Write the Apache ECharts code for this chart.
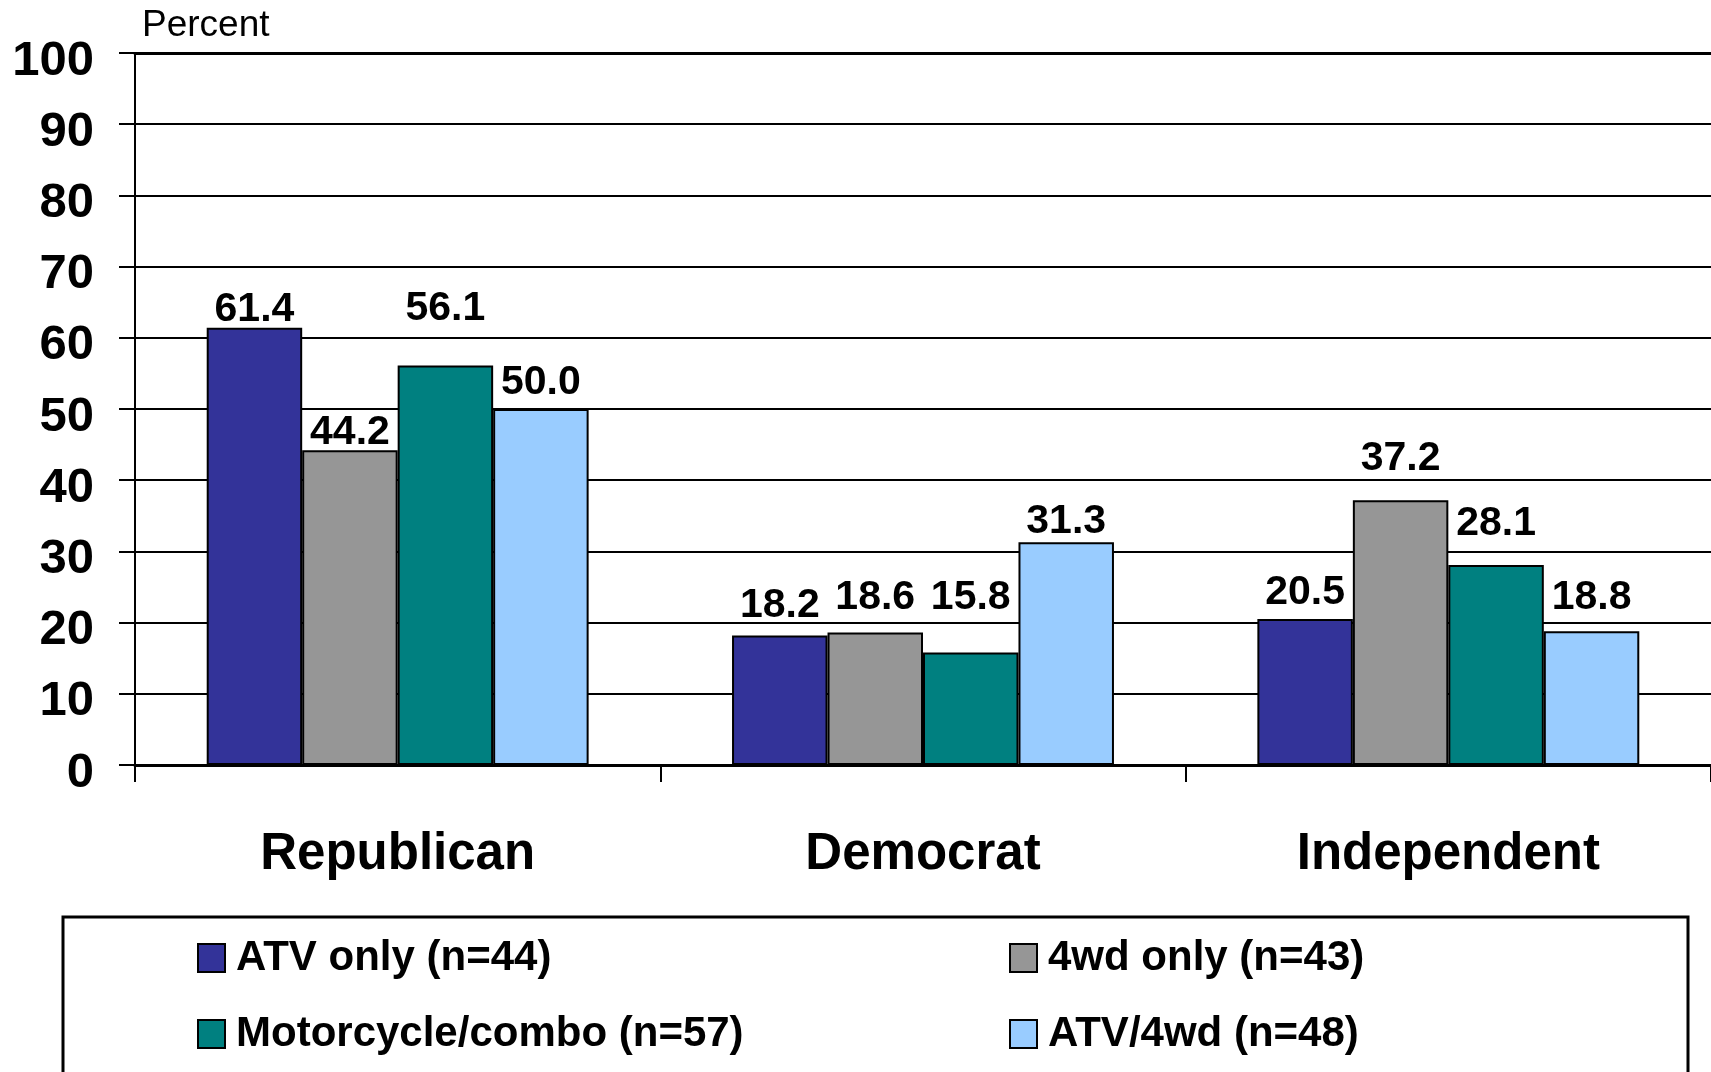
<!DOCTYPE html>
<html>
<head>
<meta charset="utf-8">
<script src="https://cdn.jsdelivr.net/npm/echarts@6/dist/echarts.min.js"></script>
<style>
html,body{margin:0;padding:0;background:#fff;}
#chart{width:1711px;height:1072px;}
</style>
</head>
<body>
<div id="chart"></div>
<script>
// ---- data ----
const categories = ['Republican', 'Democrat', 'Independent'];
const seriesNames = ['ATV only (n=44)', '4wd only (n=43)', 'Motorcycle/combo (n=57)', 'ATV/4wd (n=48)'];
const atvOnly = [61.4, 18.2, 20.5];
const fourWdOnly = [44.2, 18.6, 37.2];
const motoCombo = [56.1, 15.8, 28.1];
const atv4wd = [50.0, 31.3, 18.8];
const yTicks = [0, 10, 20, 30, 40, 50, 60, 70, 80, 90, 100];
const yAxisName = 'Percent';

// ---- style ----
const colors = ['#333399', '#969696', '#008080', '#99CCFF'];
// manual label lifts (px above bar top to label baseline), as positioned in the original
const labelLift = [
  [5, 16, 13],
  [4, 21, 28],
  [43, 41, 28],
  [13, 7, 20]
];
const FONT = '"Liberation Sans", Arial, sans-serif';

const allSeries = [atvOnly, fourWdOnly, motoCombo, atv4wd];

const chart = echarts.init(document.getElementById('chart'), null, {renderer: 'canvas'});

const series = allSeries.map((vals, si) => ({
  name: seriesNames[si],
  type: 'bar',
  barGap: '0%',
  barCategoryGap: '27.3%',
  itemStyle: {color: colors[si], borderColor: '#000', borderWidth: 2},
  data: vals.map((v, ci) => ({
    value: v,
    label: {distance: labelLift[si][ci] - 7}
  })),
  label: {
    show: true,
    position: 'top',
    color: '#000',
    fontFamily: FONT,
    fontWeight: 'bold',
    fontSize: 41,
    lineHeight: 41,
    formatter: p => p.value.toFixed(1)
  }
}));

chart.setOption({
  animation: false,
  backgroundColor: '#fff',
  grid: {left: 135, right: -1, top: 53, bottom: 307, containLabel: false},
  xAxis: [
    {
      type: 'category',
      data: categories,
      axisLine: {show: true, lineStyle: {color: '#000', width: 3}},
      axisTick: {show: true, length: 17, lineStyle: {color: '#000', width: 2}, alignWithLabel: false},
      axisLabel: {
        color: '#000', fontFamily: FONT, fontWeight: 'bold', fontSize: 51, lineHeight: 51, margin: 64
      },
      splitLine: {show: false}
    },
    {
      type: 'category',
      position: 'top',
      data: categories,
      axisLine: {show: true, lineStyle: {color: '#000', width: 3}},
      axisTick: {show: false},
      axisLabel: {show: false},
      splitLine: {show: false}
    }
  ],
  yAxis: {
    type: 'value',
    min: yTicks[0],
    max: yTicks[yTicks.length - 1],
    interval: yTicks[1] - yTicks[0],
    axisLine: {show: true, lineStyle: {color: '#000', width: 2}},
    axisTick: {show: true, length: 16, inside: false, lineStyle: {color: '#000', width: 2}},
    axisLabel: {
      showMinLabel: true,
      showMaxLabel: true,
      hideOverlap: false,
      margin: 41,
      formatter: '{t|{value}}',
      rich: {
        t: {color: '#000', fontFamily: FONT, fontWeight: 'bold', fontSize: 49, lineHeight: 49, padding: [16, 0, 0, 0]}
      }
    },
    splitLine: {show: true, lineStyle: {color: '#000', width: 2}}
  },
  legend: [
    {
      data: [seriesNames[0], seriesNames[2]],
      orient: 'vertical',
      left: 197, top: 937,
      padding: 0,
      itemWidth: 27, itemHeight: 28, itemGap: 34,
      icon: 'rect',
      itemStyle: {borderColor: '#000', borderWidth: 2},
      textStyle: {color: '#000', fontFamily: FONT, fontWeight: 'bold', fontSize: 42, lineHeight: 42, padding: [0, 0, 0, 6]},
      selectedMode: false
    },
    {
      data: [seriesNames[1], seriesNames[3]],
      orient: 'vertical',
      left: 1009, top: 937,
      padding: 0,
      itemWidth: 27, itemHeight: 28, itemGap: 34,
      icon: 'rect',
      itemStyle: {borderColor: '#000', borderWidth: 2},
      textStyle: {color: '#000', fontFamily: FONT, fontWeight: 'bold', fontSize: 42, lineHeight: 42, padding: [0, 0, 0, 6]},
      selectedMode: false
    }
  ],
  graphic: [
    {
      type: 'rect',
      shape: {x: 63, y: 917, width: 1625, height: 200},
      style: {fill: 'none', stroke: '#000', lineWidth: 3},
      silent: true
    },
    {
      type: 'text',
      x: 142, y: 26,
      style: {text: yAxisName, font: '37px ' + FONT, fill: '#000', verticalAlign: 'middle', align: 'left'},
      silent: true
    }
  ],
  series: series
});
</script>
</body>
</html>
